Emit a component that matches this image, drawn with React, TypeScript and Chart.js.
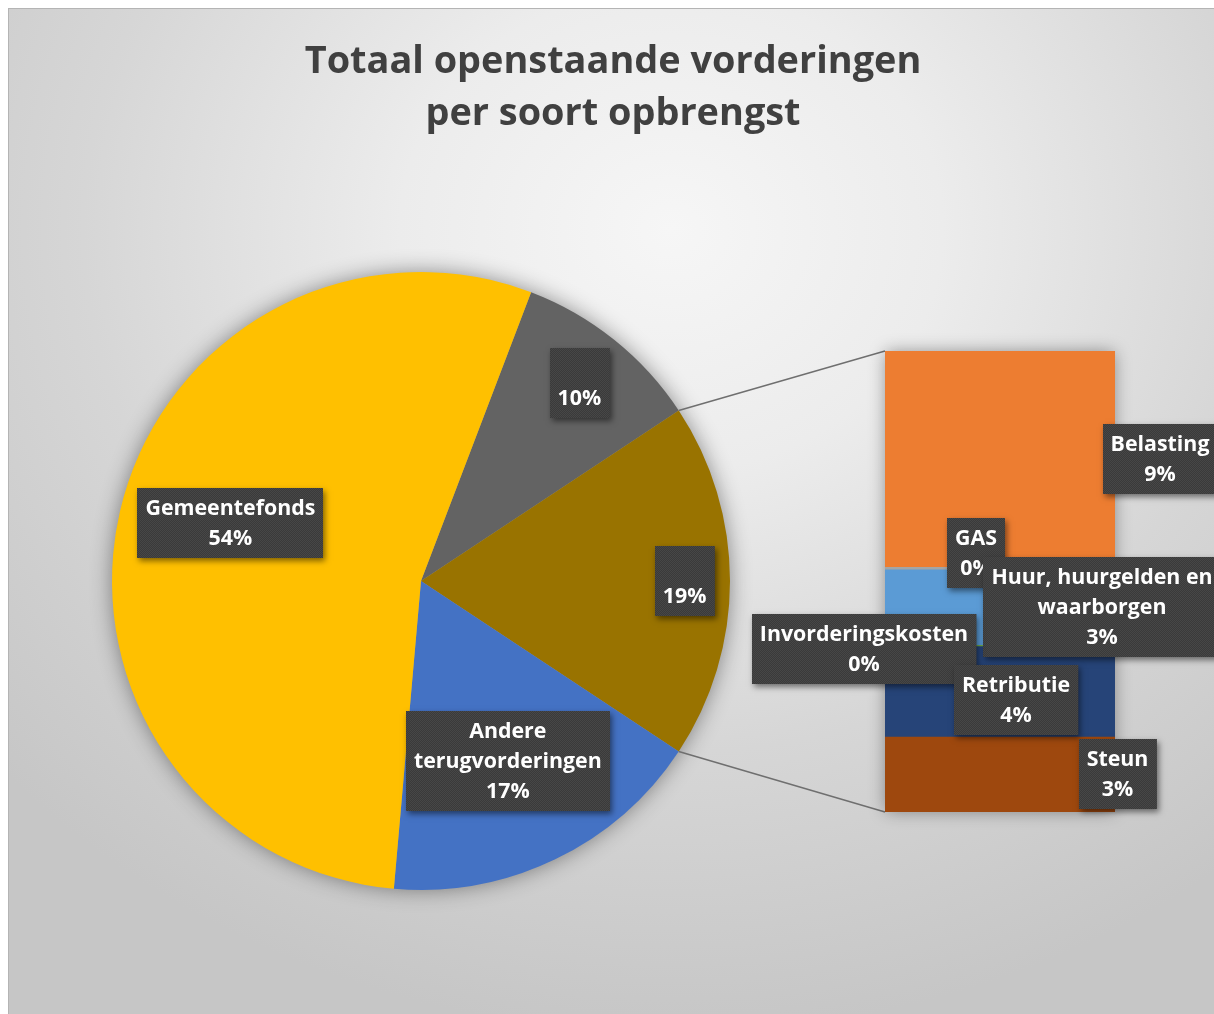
import React, { useEffect, useRef } from "react";
import { Chart, registerables } from "chart.js";

Chart.register(...registerables);

// ---------- data ----------
const TITLE_LINES = ["Totaal openstaande vorderingen", "per soort opbrengst"];

// main pie categories (clockwise, the "other" group is inserted after the first one)
const MAIN_LABELS = ["", "Andere terugvorderingen", "Gemeentefonds"];
const MAIN_VALUES = [9.9, 17.1, 54.4];
const MAIN_COLORS = ["#636363", "#4472C4", "#FFC000"];

// split-off group shown in the bar (top to bottom)
const SUB_LABELS = [
  "Belasting",
  "GAS",
  "Huur, huurgelden en waarborgen",
  "Invorderingskosten",
  "Retributie",
  "Steun",
];
const SUB_VALUES = [8.7, 0.1, 3.05, 0.05, 3.65, 3.05];
const SUB_COLORS = ["#ED7D31", "#A5A5A5", "#5B9BD5", "#70AD47", "#264478", "#9E480E"];
const OTHER_LABEL = "";
const OTHER_COLOR = "#997300";

// ---------- layout / style ----------
const W = 1206;
const H = 1006;
const FAMILY = "'Open Sans', Lato, sans-serif";
const TITLE_TARGET_WIDTH = 617;
const LABEL_TARGET_WIDTH = 170; // width of "Gemeentefonds"
const PIE_LABEL_POS = [
  { r: 0.82, dx: 0, dy: 0 },
  { r: 0.853, dx: 0, dy: 0 },
  { r: 0.647, dx: 0, dy: 0 },
  { r: 0.643, dx: 3, dy: -13 },
];
const SUB_LABEL_OFFSET = [
  [160, 0],
  [-24, -14.5],
  [102, 0],
  [-136, 4],
  [16, 8.5],
  [117.5, 0],
];

function sum(a: number[]) {
  return a.reduce((s, v) => s + v, 0);
}

export default function App() {
  const pieRef = useRef<HTMLCanvasElement>(null);
  const barRef = useRef<HTMLCanvasElement>(null);

  useEffect(() => {
    document.documentElement.style.overflow = "hidden";
    const pc = pieRef.current!;
    const bc = barRef.current!;

    const subTotal = sum(SUB_VALUES);
    const grandTotal = sum(MAIN_VALUES) + subTotal;
    const pct = (v: number) => Math.round((v / grandTotal) * 100) + "%";

    const mctx = pc.getContext("2d")!;
    mctx.font = `bold 100px ${FAMILY}`;
    const titleSize = (100 * TITLE_TARGET_WIDTH) / mctx.measureText(TITLE_LINES[0]).width;
    const labelScale = LABEL_TARGET_WIDTH / mctx.measureText("Gemeentefonds").width;
    const labelSize = 100 * labelScale;
    const labelFont = `bold ${labelSize}px ${FAMILY}`;
    const wrapWidth = 225;
    const lineH = 30;
    const padX = 8;
    const padY = 5;

    // texture pattern for label boxes
    const pcv = document.createElement("canvas");
    pcv.width = 2;
    pcv.height = 2;
    const pctx = pcv.getContext("2d")!;
    pctx.fillStyle = "#3a3a3a";
    pctx.fillRect(0, 0, 2, 2);
    pctx.fillStyle = "#474747";
    pctx.fillRect(0, 0, 1, 1);
    pctx.fillRect(1, 1, 1, 1);

    const wrap = (ctx: CanvasRenderingContext2D, text: string) => {
      if (!text) return [""];
      const words = text.split(" ");
      const lines: string[] = [];
      let cur = "";
      for (const w of words) {
        const t = cur ? cur + " " + w : w;
        if (cur && ctx.measureText(t).width > wrapWidth) {
          lines.push(cur);
          cur = w;
        } else cur = t;
      }
      if (cur) lines.push(cur);
      return lines;
    };

    const drawLabel = (ctx: CanvasRenderingContext2D, cx: number, cy: number, name: string, value: string) => {
      ctx.save();
      ctx.font = labelFont;
      const lines = [...wrap(ctx, name), value];
      const w = Math.max(...lines.map((l) => ctx.measureText(l).width)) + padX * 2;
      const h = lines.length * lineH + padY * 2;
      const x = Math.round(cx - w / 2);
      const y = Math.round(cy - h / 2);
      ctx.shadowColor = "rgba(0,0,0,0.5)";
      ctx.shadowBlur = 6;
      ctx.shadowOffsetX = 2;
      ctx.shadowOffsetY = 3;
      ctx.fillStyle = "#404040";
      ctx.fillRect(x, y, w, h);
      ctx.shadowColor = "transparent";
      ctx.fillStyle = ctx.createPattern(pcv, "repeat")!;
      ctx.fillRect(x, y, w, h);
      ctx.fillStyle = "#ffffff";
      ctx.textAlign = "center";
      ctx.textBaseline = "middle";
      lines.forEach((l, i) => ctx.fillText(l, cx, y + padY + lineH * (i + 0.5) + 1));
      ctx.restore();
    };

    const pieLabels = [MAIN_LABELS[0], OTHER_LABEL, ...MAIN_LABELS.slice(1)];
    const pieValues = [MAIN_VALUES[0], subTotal, ...MAIN_VALUES.slice(1)];
    const pieColors = [MAIN_COLORS[0], OTHER_COLOR, ...MAIN_COLORS.slice(1)];
    // Excel centres the split-off slice on the right side
    const rotation = 90 - (MAIN_VALUES[0] / grandTotal) * 360 - ((subTotal / grandTotal) * 360) / 2;

    const piePlugin = {
      id: "pieExtras",
      beforeDatasetsDraw(chart: any) {
        const arc = chart.getDatasetMeta(0).data[0];
        if (!arc) return;
        const ctx = chart.ctx;
        ctx.save();
        ctx.shadowColor = "rgba(0,0,0,0.45)";
        ctx.shadowBlur = 22;
        ctx.fillStyle = "#999";
        ctx.beginPath();
        ctx.arc(arc.x, arc.y, arc.outerRadius - 1, 0, Math.PI * 2);
        ctx.fill();
        ctx.restore();
      },
      afterDatasetsDraw(chart: any) {
        const ctx = chart.ctx;
        const arcs = chart.getDatasetMeta(0).data;
        arcs.forEach((arc: any, i: number) => {
          const mid = (arc.startAngle + arc.endAngle) / 2;
          const p = PIE_LABEL_POS[i];
          const cx = arc.x + Math.cos(mid) * arc.outerRadius * p.r + p.dx;
          const cy = arc.y + Math.sin(mid) * arc.outerRadius * p.r + p.dy;
          drawLabel(ctx, cx, cy, pieLabels[i], pct(pieValues[i]));
        });
        // title
        ctx.save();
        ctx.font = `bold ${titleSize}px ${FAMILY}`;
        ctx.fillStyle = "#404040";
        ctx.textAlign = "center";
        ctx.textBaseline = "alphabetic";
        ctx.fillText(TITLE_LINES[0], chart.width / 2 + 2, 65);
        ctx.fillText(TITLE_LINES[1], chart.width / 2 + 2, 117);
        ctx.restore();
      },
    };

    const pieChart = new Chart(pc, {
      type: "pie",
      data: {
        labels: pieLabels,
        datasets: [
          {
            data: pieValues,
            backgroundColor: pieColors,
            borderWidth: 0,
            hoverOffset: 0,
          },
        ],
      },
      options: {
        responsive: false,
        animation: false,
        devicePixelRatio: 1,
        events: [],
        rotation,
        layout: { padding: { left: 104, top: 264, right: 484, bottom: 124 } },
        plugins: { legend: { display: false }, tooltip: { enabled: false }, title: { display: false } },
      },
      plugins: [piePlugin],
    } as any);

    const barPlugin = {
      id: "barExtras",
      beforeDatasetsDraw(chart: any) {
        const ctx = chart.ctx;
        const yS = chart.scales.y;
        const first = chart.getDatasetMeta(0).data[0];
        if (!first) return;
        const left = first.x - first.width / 2;
        const right = first.x + first.width / 2;
        const top = yS.getPixelForValue(0);
        const bottom = yS.getPixelForValue(subTotal);
        // connectors from the split slice
        const arc: any = pieChart.getDatasetMeta(0).data[1];
        const R = arc.outerRadius;
        const p1 = [arc.x + R * Math.cos(arc.startAngle), arc.y + R * Math.sin(arc.startAngle)];
        const p2 = [arc.x + R * Math.cos(arc.endAngle), arc.y + R * Math.sin(arc.endAngle)];
        ctx.save();
        ctx.strokeStyle = "#6f6f6f";
        ctx.lineWidth = 1.5;
        ctx.beginPath();
        ctx.moveTo(p1[0], p1[1]);
        ctx.lineTo(left, top);
        ctx.moveTo(p2[0], p2[1]);
        ctx.lineTo(left, bottom);
        ctx.stroke();
        ctx.shadowColor = "rgba(0,0,0,0.4)";
        ctx.shadowBlur = 16;
        ctx.fillStyle = "#999";
        ctx.fillRect(left + 1, top + 1, right - left - 2, bottom - top - 2);
        ctx.restore();
      },
      afterDatasetsDraw(chart: any) {
        const ctx = chart.ctx;
        SUB_LABELS.forEach((name, i) => {
          const el: any = chart.getDatasetMeta(i).data[0];
          const cx = el.x + SUB_LABEL_OFFSET[i][0];
          const cy = (el.y + el.base) / 2 + SUB_LABEL_OFFSET[i][1];
          drawLabel(ctx, cx, cy, name, pct(SUB_VALUES[i]));
        });
      },
    };

    const barChart = new Chart(bc, {
      type: "bar",
      data: {
        labels: [""],
        datasets: SUB_LABELS.map((l, i) => ({
          label: l,
          data: [SUB_VALUES[i]],
          backgroundColor: SUB_COLORS[i],
          borderWidth: 0,
          barPercentage: 1,
          categoryPercentage: 1,
        })),
      },
      options: {
        responsive: false,
        animation: false,
        devicePixelRatio: 1,
        events: [],
        layout: { padding: { left: 877, right: 99, top: 343, bottom: 202 } },
        scales: {
          x: { display: false, stacked: true },
          y: { display: false, stacked: true, reverse: true, min: 0, max: subTotal },
        },
        plugins: { legend: { display: false }, tooltip: { enabled: false } },
      },
      plugins: [barPlugin],
    } as any);

    return () => {
      barChart.destroy();
      pieChart.destroy();
    };
  }, []);

  return (
    <div
      style={{
        position: "fixed",
        left: 8,
        top: 8,
        width: W,
        height: H,
        overflow: "hidden",
        background:
          "radial-gradient(ellipse 75% 80% at 55% 22%, #f6f6f6 0%, #ececec 30%, #d6d6d6 65%, #c6c6c6 100%)",
        boxShadow: "inset 1px 1px 0 #b4b4b4",
      }}
    >
      <canvas ref={pieRef} width={W} height={H} style={{ position: "absolute", left: 0, top: 0 }} />
      <canvas ref={barRef} width={W} height={H} style={{ position: "absolute", left: 0, top: 0 }} />
    </div>
  );
}
